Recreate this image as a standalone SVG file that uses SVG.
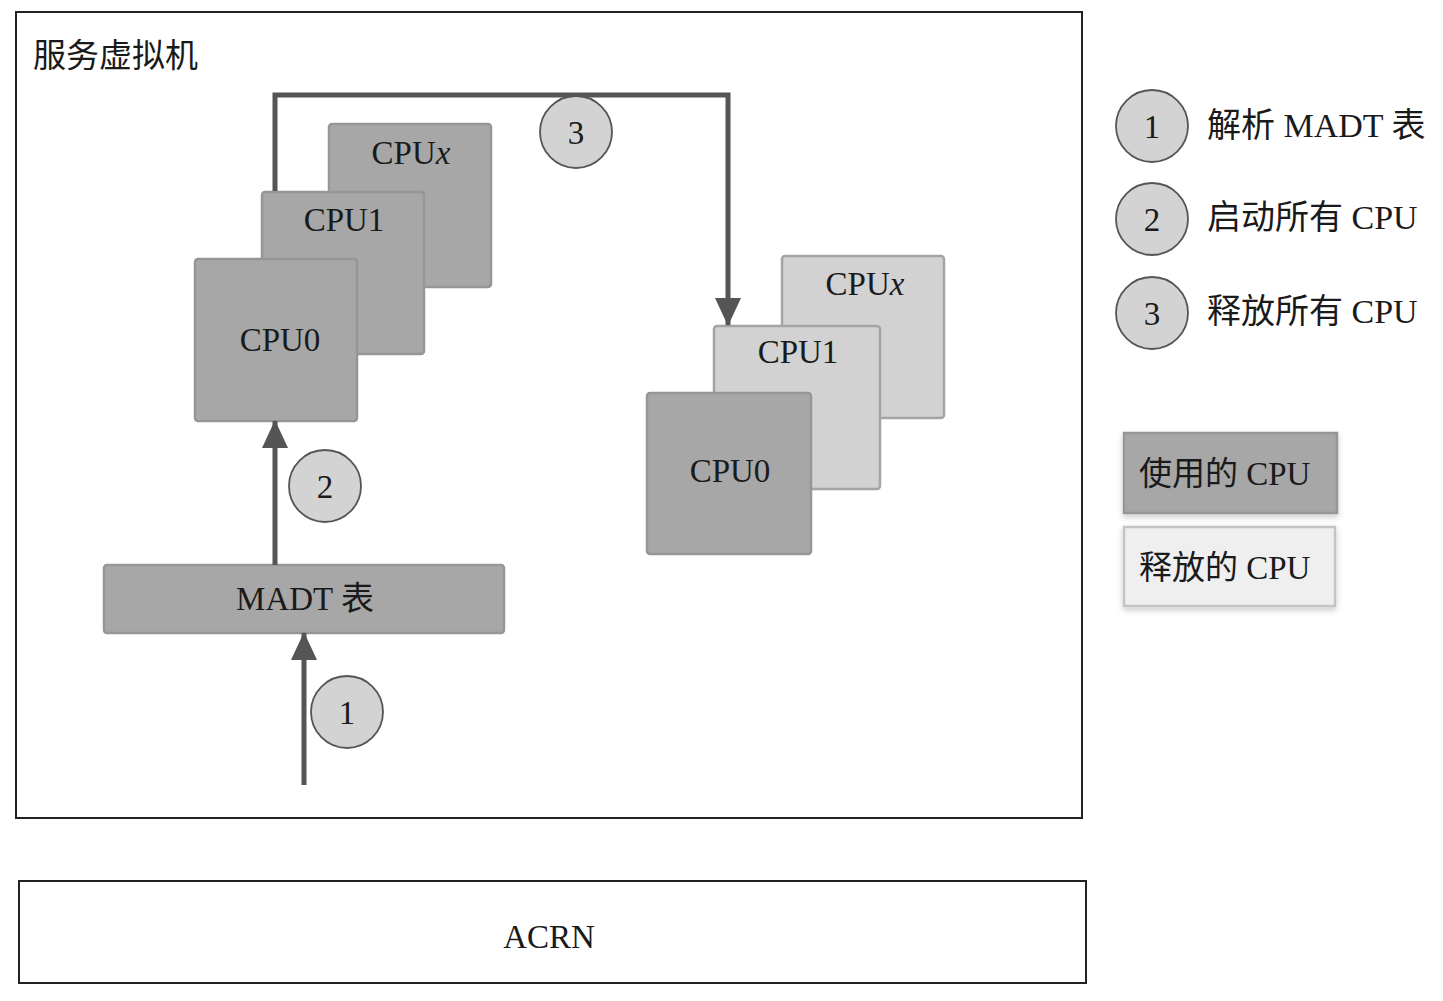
<svg xmlns="http://www.w3.org/2000/svg" width="1443" height="1001" viewBox="0 0 1443 1001">
<style>
text{font-family:"Liberation Serif",serif;font-size:33px;fill:#1a1a1a}
.k{font-family:"Noto Sans CJK SC","Noto Sans CJK JP",sans-serif}
.lg{font-size:34px}
.frame{fill:#fff;stroke:#222;stroke-width:2}
.used{fill:#a7a7a7;stroke:#969696;stroke-width:2.5}
.free{fill:#d2d2d2;stroke:#a4a4a4;stroke-width:2.5}
.leg2{fill:#efefef;stroke:#c4c4c4;stroke-width:2.5}
.num{fill:#d3d3d3;stroke:#555;stroke-width:1.8}
.conn{fill:none;stroke:#555;stroke-width:5;marker-end:url(#ah)}
.c{text-anchor:middle}
</style>
<defs>
<marker id="ah" markerUnits="userSpaceOnUse" markerWidth="30" markerHeight="30" viewBox="0 0 30 30" refX="27" refY="15" orient="auto">
<path d="M0,2 L28,15 L0,28 Z" fill="#555"/>
</marker>
<filter id="sh" x="-10%" y="-10%" width="120%" height="130%"><feDropShadow dx="0" dy="3" stdDeviation="3" flood-color="#000" flood-opacity="0.2"/></filter>
</defs>
<rect width="1443" height="1001" fill="#fff"/>
<g id="service-vm"><rect class="frame" x="16" y="12" width="1066" height="806"/><text class="k" x="33" y="67" font-size="32">服务虚拟机</text></g>
<g id="acrn"><rect class="frame" x="19" y="881" width="1067" height="102"/><text class="c" x="549" y="948">ACRN</text></g>
<g id="cpux-left"><rect class="used" x="329" y="124" width="162" height="163" rx="3"/><text class="c" x="411" y="164">CPU<tspan font-style="italic">x</tspan></text></g>
<g id="cpu1-left"><rect class="used" x="262" y="192" width="162" height="162" rx="3"/><text class="c" x="344" y="231">CPU1</text></g>
<g id="cpu0-left"><rect class="used" x="195" y="259" width="162" height="162" rx="3"/><text class="c" x="280" y="351">CPU0</text></g>
<g id="cpux-right"><rect class="free" x="782" y="256" width="162" height="162" rx="3"/><text class="c" x="865" y="295">CPU<tspan font-style="italic">x</tspan></text></g>
<g id="cpu1-right"><rect class="free" x="714" y="326" width="166" height="163" rx="3"/><text class="c" x="798" y="363">CPU1</text></g>
<g id="cpu0-right"><rect class="used" x="647" y="393" width="164" height="161" rx="3"/><text class="c" x="730" y="482">CPU0</text></g>
<g id="madt"><rect class="used" x="104" y="565" width="400" height="68" rx="3"/><text class="c" x="305" y="610">MADT <tspan class="k">表</tspan></text></g>
<g id="connectors">
<path class="conn" d="M275,191 V95 H728 V325"/>
<path class="conn" d="M275,565 V421"/>
<path class="conn" d="M304,785 V633"/>
</g>
<g id="step3"><circle class="num" cx="576" cy="132" r="36"/><text class="c" x="576" y="144">3</text></g>
<g id="step2"><circle class="num" cx="325" cy="486" r="36"/><text class="c" x="325" y="498">2</text></g>
<g id="step1"><circle class="num" cx="347" cy="712" r="36"/><text class="c" x="347" y="724">1</text></g>
<g id="legend-1"><circle class="num" cx="1152" cy="126" r="36"/><text class="c" x="1152" y="138">1</text><text class="lg" x="1207" y="137"><tspan class="k">解析</tspan> MADT <tspan class="k">表</tspan></text></g>
<g id="legend-2"><circle class="num" cx="1152" cy="219" r="36"/><text class="c" x="1152" y="231">2</text><text class="lg" x="1207" y="229"><tspan class="k">启动所有</tspan> CPU</text></g>
<g id="legend-3"><circle class="num" cx="1152" cy="313" r="36"/><text class="c" x="1152" y="325">3</text><text class="lg" x="1207" y="323"><tspan class="k">释放所有</tspan> CPU</text></g>
<g id="legend-used"><rect class="used" x="1124" y="433" width="213" height="80" filter="url(#sh)"/><text x="1139" y="485"><tspan class="k">使用的</tspan> CPU</text></g>
<g id="legend-free"><rect class="leg2" x="1124" y="527" width="211" height="79" filter="url(#sh)"/><text x="1139" y="579"><tspan class="k">释放的</tspan> CPU</text></g>
</svg>
